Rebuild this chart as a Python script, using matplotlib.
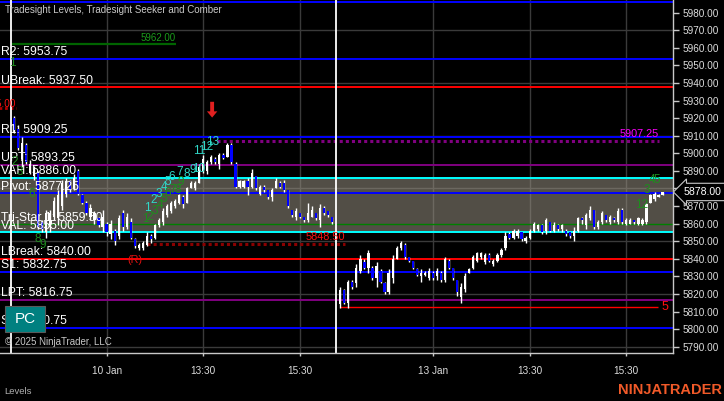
import numpy as np
import matplotlib
matplotlib.use('Agg')
import matplotlib.pyplot as plt
from matplotlib.patches import Rectangle
from matplotlib.transforms import blended_transform_factory

plt.rcParams['font.family'] = ['Liberation Sans', 'DejaVu Sans']

# ---- 5 minute bars, 10 Jan session ----
s1_open = [5920, 5914, 5897, 5905, 5889, 5887, 5889, 5861, 5855, 5858,
           5864, 5863, 5870, 5877, 5884, 5880, 5890, 5876, 5872, 5864,
           5862, 5863, 5858, 5860, 5854, 5856, 5853, 5866, 5858, 5861,
           5851, 5846, 5846, 5848, 5853, 5852, 5859, 5861, 5865, 5867,
           5870, 5872, 5875, 5872, 5880, 5880, 5883, 5890, 5890, 5895,
           5897, 5894, 5899, 5898, 5905, 5894, 5881, 5881, 5884, 5881,
           5887, 5877, 5881, 5879, 5875, 5880, 5883, 5883, 5879, 5868,
           5864, 5866, 5864, 5862, 5864, 5866, 5862, 5869, 5867, 5864]
s1_high = [5921, 5916, 5909, 5906, 5896, 5893, 5890, 5862, 5868, 5868,
           5875, 5879, 5885, 5886, 5885, 5888, 5891, 5877, 5873, 5871,
           5867, 5864, 5868, 5861, 5862, 5857, 5865, 5868, 5866, 5863,
           5852, 5849, 5850, 5855, 5854, 5860, 5863, 5869, 5871, 5873,
           5874, 5877, 5876, 5881, 5884, 5884, 5894, 5899, 5896, 5899,
           5898, 5900, 5900, 5906, 5906, 5895, 5885, 5885, 5886, 5891,
           5887, 5882, 5882, 5879, 5880, 5886, 5884, 5885, 5879, 5868,
           5869, 5866, 5864, 5872, 5870, 5866, 5871, 5870, 5867, 5864]
s1_low = [5911.5, 5902, 5892, 5894, 5888, 5885, 5857, 5855, 5852, 5855,
          5862, 5859, 5868, 5875, 5878, 5879, 5876, 5871, 5865, 5862,
          5860, 5858, 5855, 5853, 5851, 5848, 5851, 5856, 5857, 5851,
          5846, 5845, 5845, 5847, 5849, 5851, 5858, 5859, 5864, 5866,
          5869, 5871, 5869, 5872, 5880, 5879, 5883, 5889, 5888, 5894,
          5894, 5891, 5897, 5898, 5894, 5880, 5880, 5880, 5876, 5880,
          5879, 5876, 5878, 5874, 5873, 5880, 5880, 5878, 5869, 5864,
          5862, 5863, 5861, 5861, 5864, 5862, 5858, 5865, 5864, 5860]
s1_close = [5913, 5903, 5906, 5895, 5894, 5891, 5858, 5857, 5866, 5866,
            5873, 5876, 5883, 5884, 5879, 5886, 5877, 5872, 5866, 5869,
            5866, 5859, 5864, 5855, 5860, 5850, 5863, 5858, 5864, 5852,
            5847, 5848, 5849, 5853, 5851, 5859, 5862, 5867, 5870, 5872,
            5873, 5876, 5871, 5880, 5883, 5883, 5892, 5897, 5895, 5898,
            5895, 5899, 5897.5, 5905, 5895, 5881, 5884, 5884, 5881, 5889,
            5880, 5881, 5879, 5875, 5879, 5884, 5881, 5879, 5870, 5865,
            5867, 5864, 5862, 5866, 5868, 5863, 5869, 5866, 5865, 5861]

# ---- 5 minute bars, 13 Jan session ----
s2_open = [5814, 5822, 5815, 5827, 5826, 5833, 5838, 5835, 5835, 5829,
           5833, 5826, 5821, 5829, 5840, 5846, 5848, 5841, 5839, 5834,
           5830, 5831, 5829, 5832, 5830, 5832, 5828, 5839, 5835, 5828,
           5818, 5823, 5832, 5835, 5839, 5841, 5838, 5842, 5837, 5839,
           5842, 5846, 5854, 5852, 5853, 5855, 5850, 5852, 5856, 5857,
           5859, 5856, 5861, 5856, 5859, 5857, 5856, 5855, 5853, 5856,
           5863, 5859, 5863, 5868, 5858, 5861, 5865, 5861, 5863, 5861,
           5868, 5860, 5860, 5862, 5860, 5860, 5861, 5872, 5874, 5875, 5876]
s2_high = [5824, 5823, 5828, 5828, 5837, 5842, 5840, 5845, 5836, 5838,
           5834, 5827, 5834, 5842, 5847, 5850, 5849, 5841, 5839, 5835,
           5834, 5833, 5835, 5833, 5835, 5833, 5841, 5840, 5835, 5828,
           5826, 5832, 5835, 5842, 5844, 5844, 5843, 5843, 5840, 5843,
           5846, 5855, 5855, 5857, 5857, 5855, 5853, 5857, 5861, 5860,
           5860, 5863, 5861, 5861, 5860, 5860, 5857, 5855, 5858, 5864,
           5864, 5866, 5870, 5868, 5862, 5867, 5865, 5865, 5864, 5869,
           5869, 5863, 5863, 5862, 5864, 5863, 5872, 5877, 5878, 5877, 5878]
s2_low = [5812, 5814, 5812, 5823, 5824, 5832, 5834, 5832, 5828, 5824,
          5826, 5820, 5820, 5826, 5840, 5845, 5840, 5838, 5834, 5830,
          5827, 5830, 5828, 5828, 5828, 5827, 5827, 5834, 5828, 5819,
          5815, 5821, 5832, 5834, 5838, 5840, 5837, 5838, 5836, 5838,
          5841, 5845, 5851, 5851, 5852, 5850, 5849, 5851, 5855, 5856,
          5854, 5854, 5855, 5855, 5856, 5855, 5853, 5852, 5850, 5855,
          5860, 5857, 5862, 5857, 5857, 5860, 5861, 5860, 5861, 5860,
          5860, 5859, 5860, 5860, 5859, 5859, 5860, 5872, 5873, 5875, 5876]
s2_close = [5822, 5815, 5827, 5824, 5835, 5840, 5835, 5843, 5829, 5836,
            5827, 5821, 5832, 5840, 5846, 5849, 5841, 5839, 5835, 5831,
            5832, 5832, 5833, 5829, 5833, 5828, 5840, 5835, 5829, 5821,
            5824, 5830, 5834, 5841, 5843, 5843, 5842, 5839, 5839, 5842,
            5845, 5853, 5852, 5856, 5856, 5851, 5852, 5856, 5860, 5859,
            5855, 5862, 5856, 5859, 5857, 5859, 5854, 5853, 5856, 5863,
            5862, 5865, 5868, 5858, 5861, 5866, 5862, 5864, 5862, 5867,
            5861, 5862, 5862, 5861, 5863, 5862, 5871, 5876, 5877, 5876.5, 5878]

# time axis (bar index) labels
xtick_pos = [23, 47, 71, 104, 128, 152]
xtick_labels = ['10 Jan', '13:30', '15:30', '13 Jan', '13:30', '15:30']
session_breaks = [-0.7, 80]

# Tradesight levels
level_names = ['R2', 'UBreak', 'R1', 'UPT', 'VAH', 'Pivot', 'Tri-Star 1',
               'VAL', 'LBreak', 'S1', 'LPT', 'S2']
level_values = [5953.75, 5937.50, 5909.25, 5893.25, 5886.00, 5877.25, 5859.50,
                5855.00, 5840.00, 5832.75, 5816.75, 5800.75]
level_colors = ['#0000ff', '#ff0000', '#0000ff', '#800080', '#00ffff', '#0000ff',
                '#008000', '#00ffff', '#ff0000', '#0000ff', '#800080', '#0000ff']
r3_value = 5986.0

# Seeker / Comber counts
cyan_counts = ['1', '2', '3', '4', '5', '6', '7', '8', '9', '10', '11', '12', '13']
cyan_x = [33.0, 34.8, 36.0, 37.2, 38.2, 39.2, 41.2, 43.0, 44.4, 45.9, 45.9, 47.9, 49.2]
cyan_y = [5868.9, 5873.5, 5876.9, 5880.9, 5883.7, 5886.5, 5889.4, 5888.3,
          5890.5, 5891.1, 5901.3, 5903.6, 5906.4]
green_counts = ['1', '2', '3', '6', '8', '9',
                '1', '2', '3', '4', '5', '6', '7', '8', '9',
                '12', '3', '4', '5']
green_x = [-0.5, 0.3, 1.5, 4.5, 6.0, 7.2,
           32.6, 33.8, 35.0, 36.3, 37.2, 38.2, 39.5, 40.7, 41.5,
           155.9, 157.1, 158.3, 159.6]
green_y = [5951.4, 5895.1, 5889.4, 5876.9, 5851.3, 5847.9,
           5862.6, 5863.7, 5867.1, 5870.5, 5873.9, 5877.3, 5879.1, 5879.1, 5883.7,
           5870.6, 5879.1, 5884.8, 5884.8]

last_price = 5878.00

fig = plt.figure(figsize=(7.24, 4.01), dpi=100)
fig.patch.set_facecolor('black')
ax = fig.add_axes([0, 0.1197, 0.9302, 0.8803])
ax.set_facecolor('black')
ax.set_xlim(-3.45, 163.7)
ax.set_ylim(5786.4, 5987.2)

# grid
for yv in range(5790, 5981, 30):
    ax.axhline(yv, color='#3a3a3a', lw=1, zorder=1)
for xv in xtick_pos:
    ax.axvline(xv, color='#3a3a3a', lw=1, zorder=1)

# value area box
ax.axhspan(5855.0, 5886.0, color='#968f80', alpha=0.55, lw=0, zorder=1.5)

# level lines
for v, c in zip(level_values, level_colors):
    lw = 1.0 if c == '#008000' else 1.4
    ax.axhline(v, color=c, lw=lw, zorder=2)
ax.axhline(r3_value, color='#0000ff', lw=1.4, zorder=2)

# seeker lines
ax.hlines(5962.0, -0.7, 40.2, color='#006400', lw=1.6, zorder=2)
ax.hlines(5907.25, 50.4, 160.1, color='#800080', lw=2.2, linestyles=(0, (1, 1)), zorder=2)
ax.hlines(5848.5, 33.0, 82.2, color='#8b0000', lw=2.2, linestyles=(0, (1, 1)), zorder=2)
ax.hlines(5812.5, 80.9, 159.8, color='#ff0000', lw=1.0, zorder=2)
ax.hlines(5925.6, -4, 0.6, color='#b00000', lw=2.0, linestyles=(0, (1, 1)), zorder=2)

# session separators
for xv in session_breaks:
    ax.axvline(xv, color='white', lw=1.3, zorder=2.5)

# candles
def candles(xs, o, h, l, c):
    o, h, l, c = map(np.asarray, (o, h, l, c))
    ax.vlines(xs, l, h, color='white', lw=1.0, zorder=3)
    up = c >= o
    bottom = np.minimum(o, c)
    height = np.maximum(np.abs(c - o), 0.6)
    ax.bar(xs[up], height[up], bottom=bottom[up], width=0.55, color='white', lw=0, zorder=3.5)
    ax.bar(xs[~up], height[~up], bottom=bottom[~up], width=0.55, color='#0000ff', lw=0, zorder=3.5)

candles(np.arange(len(s1_open)), s1_open, s1_high, s1_low, s1_close)
candles(np.arange(len(s2_open)) + 81, s2_open, s2_high, s2_low, s2_close)

# level labels
tr = blended_transform_factory(ax.transAxes, ax.transData)
for n, v in zip(level_names, level_values):
    ax.text(0.001, v + 0.4, f'{n}: {v:.2f}', transform=tr, color='white', fontsize=8.8,
            ha='left', va='bottom', zorder=4)
ax.text(0.6, 5928.0, '5925.00', color='#ff1010', fontsize=7.2, ha='right', va='center', zorder=4)

# seeker labels
ax.text(40.2, 5963.0, '5962.00', color='#1a9a1a', fontsize=7.0, ha='right', va='bottom', zorder=4)
ax.text(160.1, 5908.3, '5907.25', color='#ff00ff', fontsize=7.8, ha='right', va='bottom', zorder=4)
ax.text(82.2, 5849.3, '5848.50', color='#ff1010', fontsize=7.8, ha='right', va='bottom', zorder=4)
ax.text(161.6, 5812.4, '5', color='#ff1010', fontsize=9, ha='center', va='center', zorder=4)
ax.text(30.0, 5839.3, '(R)', color='#e01010', fontsize=7.8, ha='center', va='center', zorder=4)
ax.annotate('', xy=(49.2, 5920.3), xytext=(49.2, 5929.3),
            arrowprops=dict(arrowstyle='simple,head_width=0.75,head_length=0.45,tail_width=0.28',
                            color='#e02020', lw=0, shrinkA=0, shrinkB=0), zorder=4)

for t, x, y in zip(cyan_counts, cyan_x, cyan_y):
    ax.text(x, y, t, color='#30d8c8', fontsize=8.5, ha='center', va='center', zorder=4)
for t, x, y in zip(green_counts, green_x, green_y):
    ax.text(x, y, t, color='#1e8c1e', fontsize=8.5, ha='center', va='center', zorder=4)

# axes styling
for s in ['top', 'left']:
    ax.spines[s].set_visible(False)
for s in ['right', 'bottom']:
    ax.spines[s].set_color('#c8c8c8')
    ax.spines[s].set_linewidth(1.0)
ax.yaxis.tick_right()
ax.set_yticks(np.arange(5790, 5981, 10))
ax.set_yticklabels([f'{v:.2f}' for v in np.arange(5790, 5981, 10)])
ax.tick_params(axis='y', colors='#c8c8c8', labelcolor='#dcdcdc', labelsize=7.2,
               length=4.3, width=1, pad=2.2)
ax.set_xticks(xtick_pos)
ax.set_xticklabels(xtick_labels)
ax.tick_params(axis='x', colors='#c8c8c8', labelcolor='#dcdcdc', labelsize=7.2,
               length=2.2, width=1, pad=7.5)

# current price marker
ax.annotate(f'{last_price:.2f}', xy=(1.0, last_price), xycoords=tr,
            xytext=(7.0, 0), textcoords='offset points', color='white', fontsize=7.6,
            ha='left', va='center', annotation_clip=False, zorder=6,
            bbox=dict(boxstyle='larrow,pad=0.35', fc='black', ec='#c8c8c8', lw=0.8))

# overlays
fig.text(5 / 724, 1 - 10 / 401, 'Tradesight Levels, Tradesight Seeker and Comber',
         color='#c8c8c8', fontsize=7.0, ha='left', va='center')
fig.add_artist(Rectangle((5 / 724, 1 - 332 / 401), 40 / 724, 26 / 401,
                         transform=fig.transFigure, fc='#008080', ec='#5a5a5a', lw=0.8, zorder=5))
fig.text(25 / 724, 1 - 319 / 401, 'PC', color='white', fontsize=11,
         ha='center', va='center', zorder=6)
fig.text(5 / 724, 1 - 342 / 401, '\u00a9 2025 NinjaTrader, LLC', color='#c8c8c8',
         fontsize=7.0, ha='left', va='center', zorder=6)
fig.text(4 / 724, 1 - 391 / 401, 'Levels', color='#b0b0b0', fontsize=6.8,
         ha='left', va='center')
fig.text(722 / 724, 1 - 390 / 401, 'NINJATRADER', color='#f15a29', fontsize=10.5,
         fontweight='bold', ha='right', va='center')

fig.savefig('out.png', dpi=100, facecolor='black')
